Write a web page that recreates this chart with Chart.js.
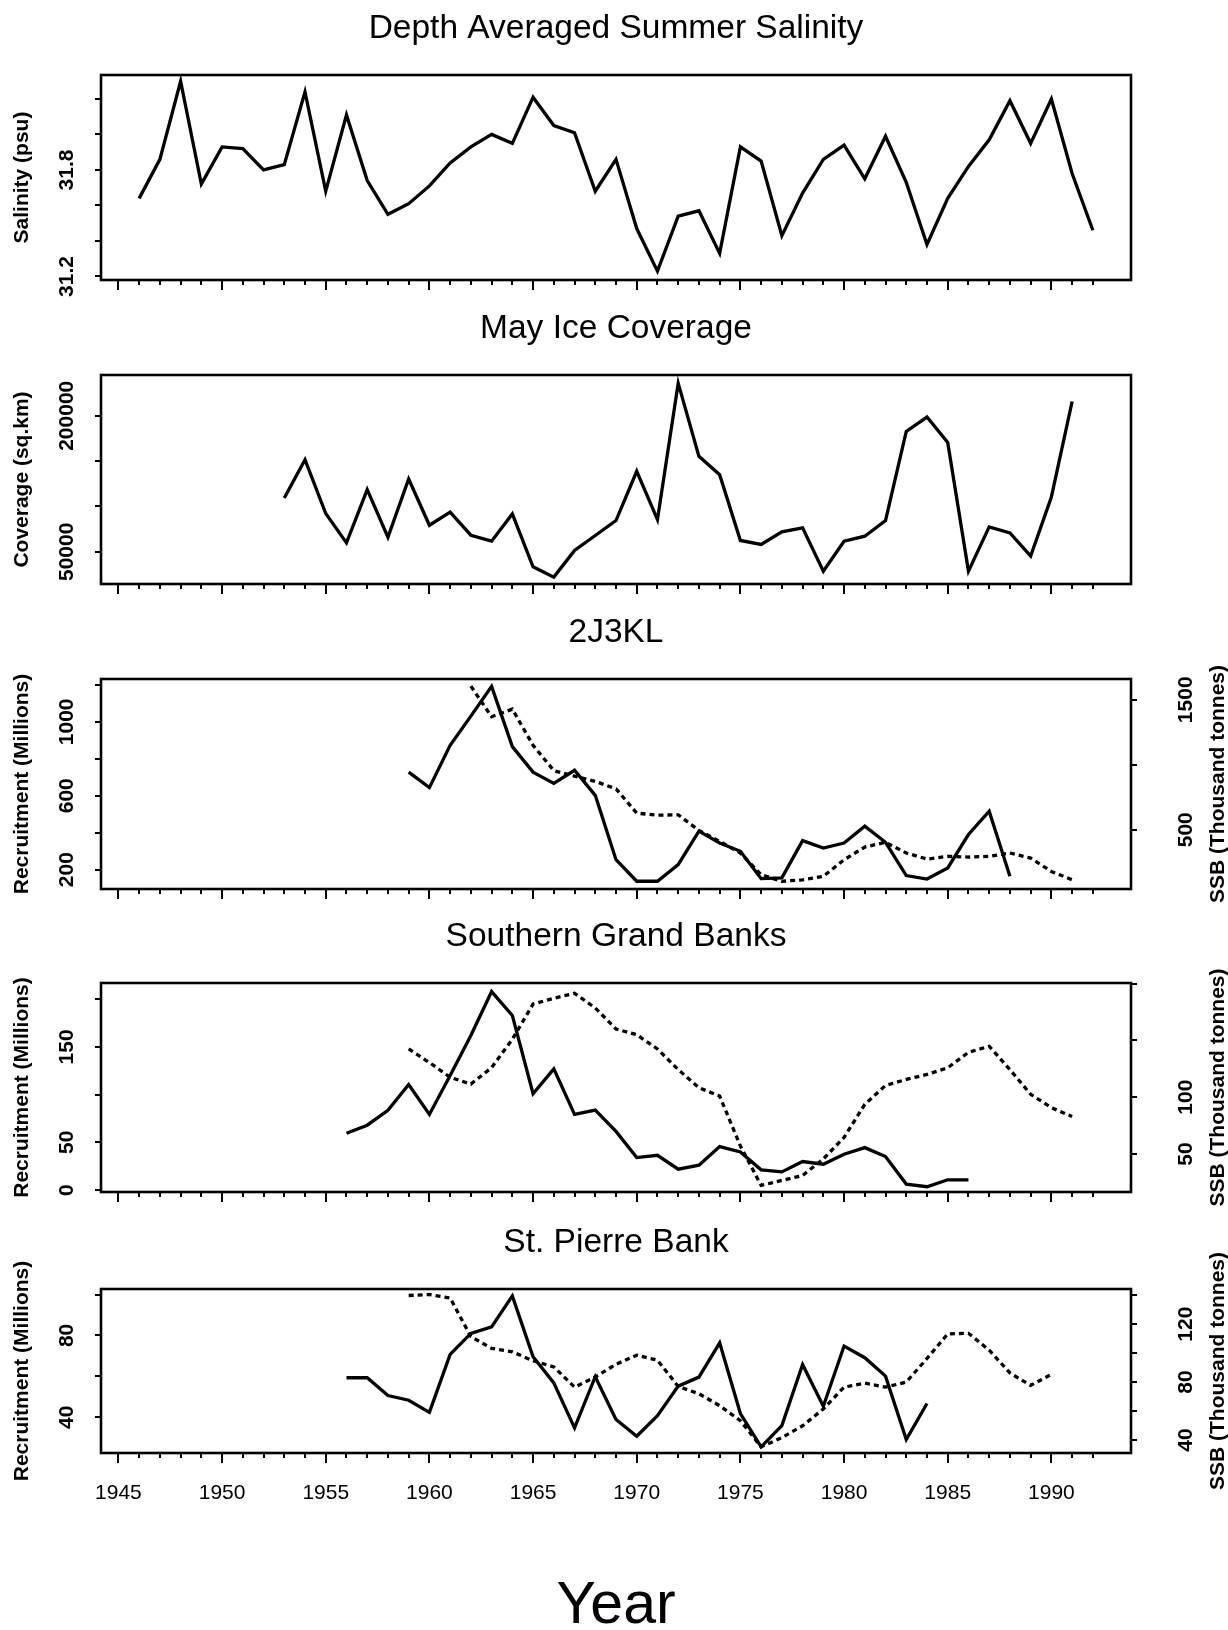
<!DOCTYPE html>
<html>
<head>
<meta charset="utf-8">
<title>Environmental series and cod recruitment</title>
<script src="https://cdn.jsdelivr.net/npm/chart.js@4.4.1/dist/chart.umd.min.js"></script>
<style>
  html, body { margin: 0; padding: 0; background: #ffffff; }
  #page { position: relative; width: 1228px; height: 1630px; background: #ffffff; overflow: hidden; }
  #page canvas { position: absolute; left: 0; top: 0; pointer-events: none; }
</style>
</head>
<body>
<div id="page"></div>
<script>
// ---------------- data ----------------
// Depth averaged summer salinity (psu), one value per year from 1946
const salinityStart = 1946;
const salinity = [31.64, 31.86, 32.30, 31.72, 31.93, 31.92, 31.80, 31.83, 32.24, 31.68,
                  32.11, 31.74, 31.55, 31.61, 31.71, 31.84, 31.93, 32.00, 31.95, 32.21,
                  32.05, 32.01, 31.68, 31.86, 31.47, 31.23, 31.54, 31.57, 31.33, 31.93,
                  31.85, 31.43, 31.67, 31.86, 31.94, 31.75, 31.99, 31.73, 31.38, 31.64,
                  31.82, 31.97, 32.19, 31.95, 32.20, 31.78, 31.46];

// May ice coverage (sq.km) from 1953
const iceStart = 1953;
const iceCoverage = [109400, 151600, 92200, 59900, 118600, 66100, 130300, 79300, 93700, 68300,
                     61700, 91800, 33500, 22100, 51500, 68000, 84500, 138800, 85600, 236000,
                     155300, 135100, 62500, 58100, 72000, 76400, 28700, 61700, 67200, 84500,
                     182800, 198600, 170700, 28700, 77500, 70900, 45200, 110500, 215800];

// 2J3KL: recruitment (millions) from 1959, SSB (thousand tonnes) from 1962
const nfRecruitStart = 1959;
const nfRecruit = [728, 644, 873, 1031, 1192, 866, 728, 667, 738, 602,
                   254, 137, 137, 227, 408, 344, 299, 151, 155, 357,
                   317, 344, 435, 348, 168, 149, 209, 390, 516, 164];
const nfSsbStart = 1962;
const nfSsb = [1605, 1370, 1428, 1150, 955, 912, 872, 815, 628, 612,
               615, 495, 410, 321, 154, 103, 115, 141, 269, 367,
               403, 321, 274, 295, 290, 295, 321, 282, 179, 115];

// Southern Grand Banks: recruitment from 1956, SSB from 1959
const sgbRecruitStart = 1956;
const sgbRecruit = [59.5, 68, 83.5, 110.6, 79.3, 120, 162, 208, 183, 101,
                    127, 79.3, 83.8, 61.5, 34.1, 36.5, 21.9, 26.1, 45.6, 40,
                    21.2, 19.1, 29.9, 27.1, 37.6, 44.5, 35.1, 6.3, 3.5, 10.8, 10.8];
const sgbSsbStart = 1959;
const sgbSsb = [142.5, 130.5, 117.5, 111.5, 126, 151, 182, 187, 191.5, 178.5,
                160, 155, 142.4, 124.3, 108.3, 101, 57, 22.3, 26.7, 31,
                45.6, 64.6, 93.7, 110.3, 115.6, 120, 125.8, 139.5, 144.8, 124.3,
                102.5, 90.8, 82.9];

// St. Pierre Bank: recruitment from 1956, SSB from 1959
const spbRecruitStart = 1956;
const spbRecruit = [59.3, 59.3, 50.6, 48.3, 42.4, 70.7, 81, 84.2, 99.3, 69.6,
                    56.8, 34.8, 59.8, 38.9, 30.7, 40.8, 55.2, 59.6, 76.4, 41.8,
                    25.5, 35.9, 65.8, 45.4, 74.8, 69.1, 60.1, 29.1, 46.7];
const spbSsbStart = 1959;
const spbSsb = [139.8, 140.5, 138.1, 111.4, 103.3, 100.9, 94.7, 90.5, 76.5, 83.5,
                92.3, 98.6, 95.1, 77, 71.9, 63.7, 53.3, 35.3, 41.6, 49.8,
                61.4, 76.5, 79.3, 76.5, 80, 96.3, 113.3, 113.7, 102.1, 86.3,
                77.7, 85.3];

// axis ticks and the labels printed beside them
const yearFirstTick = 1945, yearLastTick = 1992;
const yearLabels = ['1945', '1950', '1955', '1960', '1965', '1970', '1975', '1980', '1985', '1990'];
const salinityTicks = [31.2, 31.4, 31.6, 31.8, 32.0, 32.2];
const salinityLabels = ['31.2', '31.8'];
const iceTicks = [50000, 100000, 150000, 200000];
const iceLabels = ['50000', '200000'];
const nfRecruitTicks = [200, 400, 600, 800, 1000, 1200];
const nfRecruitLabels = ['200', '600', '1000'];
const nfSsbTicks = [500, 1000, 1500];
const nfSsbLabels = ['500', '1500'];
const sgbRecruitTicks = [0, 50, 100, 150, 200];
const sgbRecruitLabels = ['0', '50', '150'];
const sgbSsbTicks = [50, 100, 150, 200];
const sgbSsbLabels = ['50', '100'];
const spbRecruitTicks = [40, 60, 80, 100];
const spbRecruitLabels = ['40', '80'];
const spbSsbTicks = [40, 60, 80, 100, 120, 140];
const spbSsbLabels = ['40', '80', '120'];

// ---------------- layout ----------------
const PAGE_W = 1228, PAGE_H = 1630;
const BOX_LEFT = 101, BOX_RIGHT = 1131;
const X_MIN = 1944.16, X_MAX = 1993.84;
const FONT = '"Liberation Sans", Arial, Helvetica, sans-serif';
const INK = '#000000';

function series(start, values) {
  return values.map((v, i) => ({ x: start + i, y: v }));
}

const panels = [
  { title: 'Depth Averaged Summer Salinity', top: 75, bottom: 280,
    left: { title: 'Salinity (psu)', min: 31.18, max: 32.335, ticks: salinityTicks, labels: salinityLabels },
    solid: series(salinityStart, salinity) },
  { title: 'May Ice Coverage', top: 375, bottom: 584,
    left: { title: 'Coverage (sq.km)', min: 14500, max: 245000, ticks: iceTicks, labels: iceLabels },
    solid: series(iceStart, iceCoverage) },
  { title: '2J3KL', top: 679, bottom: 889,
    left: { title: 'Recruitment (Millions)', min: 95, max: 1232, ticks: nfRecruitTicks, labels: nfRecruitLabels },
    right: { title: 'SSB (Thousand tonnes)', min: 44, max: 1660, ticks: nfSsbTicks, labels: nfSsbLabels },
    solid: series(nfRecruitStart, nfRecruit), dashed: series(nfSsbStart, nfSsb) },
  { title: 'Southern Grand Banks', top: 983, bottom: 1192,
    left: { title: 'Recruitment (Millions)', min: -2, max: 217, ticks: sgbRecruitTicks, labels: sgbRecruitLabels },
    right: { title: 'SSB (Thousand tonnes)', min: 16.5, max: 200.5, ticks: sgbSsbTicks, labels: sgbSsbLabels },
    solid: series(sgbRecruitStart, sgbRecruit), dashed: series(sgbSsbStart, sgbSsb) },
  { title: 'St. Pierre Bank', top: 1289, bottom: 1453, yearLabels: true, xTitle: 'Year',
    left: { title: 'Recruitment (Millions)', min: 22.5, max: 102.7, ticks: spbRecruitTicks, labels: spbRecruitLabels },
    right: { title: 'SSB (Thousand tonnes)', min: 31, max: 144.3, ticks: spbSsbTicks, labels: spbSsbLabels },
    solid: series(spbRecruitStart, spbRecruit), dashed: series(spbSsbStart, spbSsb) }
];

function rotatedText(ctx, text, x, y) {
  ctx.save();
  ctx.translate(x, y);
  ctx.rotate(-Math.PI / 2);
  ctx.textAlign = 'center';
  ctx.textBaseline = 'middle';
  ctx.fillText(text, 0, 0);
  ctx.restore();
}

// draws the frame, axis ticks, tick labels and titles of one panel
const panelFrame = {
  id: 'panelFrame',
  afterDatasetsDraw(chart, args, opts) {
    const p = opts.panel;
    const { ctx, chartArea } = chart;
    const xs = chart.scales.x;
    ctx.save();
    ctx.strokeStyle = INK;
    ctx.fillStyle = INK;

    // box
    ctx.lineWidth = 2.6;
    ctx.strokeRect(chartArea.left, chartArea.top, chartArea.right - chartArea.left, chartArea.bottom - chartArea.top);

    // year ticks along the bottom: every year, longer every fifth
    ctx.lineWidth = 2;
    for (let yr = yearFirstTick; yr <= yearLastTick; yr++) {
      const px = Math.round(xs.getPixelForValue(yr));
      const len = (yr % 5 === 0) ? 10 : 5;
      ctx.beginPath();
      ctx.moveTo(px, chartArea.bottom);
      ctx.lineTo(px, chartArea.bottom + len);
      ctx.stroke();
    }
    if (p.yearLabels) {
      ctx.font = '21px ' + FONT;
      ctx.textAlign = 'center';
      ctx.textBaseline = 'alphabetic';
      yearLabels.forEach(lbl => {
        ctx.fillText(lbl, xs.getPixelForValue(Number(lbl)), chartArea.bottom + 46);
      });
    }

    // left axis
    const yl = chart.scales.y;
    p.left.ticks.forEach(v => {
      const py = Math.round(yl.getPixelForValue(v));
      ctx.beginPath();
      ctx.moveTo(chartArea.left, py);
      ctx.lineTo(chartArea.left - 6, py);
      ctx.stroke();
    });
    ctx.font = 'bold 21px ' + FONT;
    p.left.labels.forEach(lbl => rotatedText(ctx, lbl, 67, yl.getPixelForValue(Number(lbl))));
    ctx.font = 'bold 21px ' + FONT;
    rotatedText(ctx, p.left.title, 22, (chartArea.top + chartArea.bottom) / 2);

    // right axis
    if (p.right) {
      const yr = chart.scales.y2;
      p.right.ticks.forEach(v => {
        const py = Math.round(yr.getPixelForValue(v));
        ctx.beginPath();
        ctx.moveTo(chartArea.right, py);
        ctx.lineTo(chartArea.right + 6, py);
        ctx.stroke();
      });
      ctx.font = 'bold 21px ' + FONT;
      p.right.labels.forEach(lbl => rotatedText(ctx, lbl, 1186, yr.getPixelForValue(Number(lbl))));
      ctx.font = 'bold 21px ' + FONT;
      rotatedText(ctx, p.right.title, 1218, (chartArea.top + chartArea.bottom) / 2);
    }

    // panel title
    ctx.font = '33.5px ' + FONT;
    ctx.textAlign = 'center';
    ctx.textBaseline = 'alphabetic';
    ctx.fillText(p.title, (chartArea.left + chartArea.right) / 2, chartArea.top - 37);

    if (p.xTitle) {
      ctx.font = '59px ' + FONT;
      ctx.fillText(p.xTitle, (chartArea.left + chartArea.right) / 2, 1623);
    }
    ctx.restore();
  }
};

const page = document.getElementById('page');

panels.forEach(p => {
  const canvas = document.createElement('canvas');
  canvas.width = PAGE_W;
  canvas.height = PAGE_H;
  canvas.style.width = PAGE_W + 'px';
  canvas.style.height = PAGE_H + 'px';
  page.appendChild(canvas);

  const datasets = [{
    label: p.left.title,
    data: p.solid,
    yAxisID: 'y',
    borderColor: INK,
    borderWidth: 3.3,
    pointRadius: 0,
    tension: 0,
    fill: false,
    borderJoinStyle: 'miter'
  }];
  const scales = {
    x: { type: 'linear', min: X_MIN, max: X_MAX, display: false },
    y: { type: 'linear', min: p.left.min, max: p.left.max, display: false }
  };
  if (p.right) {
    datasets.push({
      label: p.right.title,
      data: p.dashed,
      yAxisID: 'y2',
      borderColor: INK,
      borderWidth: 3.3,
      borderDash: [5, 4],
      pointRadius: 0,
      tension: 0,
      fill: false
    });
    scales.y2 = { type: 'linear', position: 'right', min: p.right.min, max: p.right.max, display: false };
  }

  new Chart(canvas, {
    type: 'line',
    data: { datasets },
    options: {
      responsive: false,
      animation: false,
      devicePixelRatio: 1,
      events: [],
      layout: { padding: { left: BOX_LEFT, right: PAGE_W - BOX_RIGHT, top: p.top, bottom: PAGE_H - p.bottom } },
      scales,
      plugins: {
        legend: { display: false },
        title: { display: false },
        tooltip: { enabled: false },
        panelFrame: { panel: p }
      }
    },
    plugins: [panelFrame]
  });
});
</script>
</body>
</html>
